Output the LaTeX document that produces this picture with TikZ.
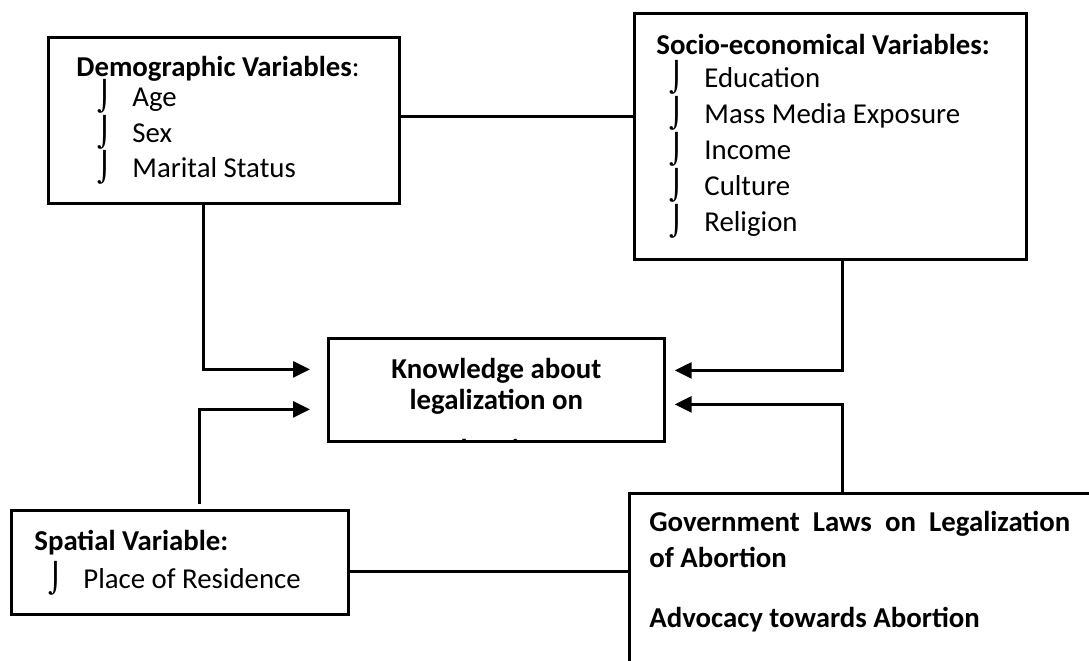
\documentclass[tikz,border=0pt]{standalone}
\usepackage{fontspec}
\setmainfont{Carlito}
\newfontfamily\symfont{DejaVu Sans}
\usetikzlibrary{arrows.meta,positioning,calc}

% list mark and list entry (indent, mark, text)
\newcommand{\bul}{{\symfont\char"2321}}
\newcommand{\itm}[2][0.26cm]{\hspace*{#1}\makebox[0.7cm][l]{\bul}#2}

\tikzset{
  varbox/.style={rectangle, draw, line width=1.6pt, inner sep=0pt, anchor=north west,
    align=flush left, font=\fontsize{16.4}{20.4}\selectfont},
  plainbox/.style={rectangle, draw, line width=1.6pt, inner sep=0pt, anchor=north west},
  boldtext/.style={inner sep=0pt, font=\bfseries\fontsize{16.4}{20.4}\selectfont},
  link/.style={line width=1.6pt},
  arr/.style={link, -{Triangle[length=0.34cm,width=0.32cm]}},
}

\begin{document}
\begin{tikzpicture}[x=0.02cm, y=-0.02cm]
    \clip (0,0) rectangle (1089,660);

    \node[varbox, minimum width=7.02cm, minimum height=3.32cm, text width=5.9cm] (demo) at (47,36)
        {\textbf{Demographic Variables}:\\[-0.12cm]
         \itm[0.42cm]{Age}\\ \itm[0.42cm]{Sex}\\ \itm[0.42cm]{Marital Status}};
    \node[varbox, minimum width=7.84cm, minimum height=4.92cm, text width=6.96cm] (socio) at (633,12)
        {\textbf{Socio-economical Variables:}\\[-0.06cm]
         \itm{Education}\\ \itm{Mass Media Exposure}\\ \itm{Income}\\ \itm{Culture}\\ \itm{Religion}};
    \node[varbox, minimum width=6.74cm, minimum height=2.08cm, text width=5.82cm] (spatial) at (10,509)
        {\textbf{Spatial Variable:}\\[0.04cm] \itm[0.28cm]{Place of Residence}};
    \node[plainbox, minimum width=6.72cm, minimum height=2.06cm] (know) at (327,337) {};
    \node[plainbox, minimum width=9.84cm, minimum height=4.3cm] (gov) at (628,492) {};

    % texts of the two plain boxes
    \begin{scope}
        \clip ([yshift=-0.8pt]know.north west) rectangle ([yshift=0.8pt]know.south east);
        \node[boldtext, align=center, anchor=north, font=\bfseries\fontsize{16.4}{17.6}\selectfont]
            (knowtext) at ([yshift=-0.42cm]know.north)
            {Knowledge about\\legalization on\\[0.39cm]Abortion};
    \end{scope}
    \node[boldtext, align=flush left, anchor=north west] (govtext) at ([xshift=0.42cm,yshift=-0.38cm]gov.north west)
        {\makebox[8.42cm][s]{Government Laws on Legalization}\\
         of Abortion\\[0.48cm]
         Advocacy towards Abortion};

    % connectors
    \coordinate (sdrop) at ([xshift=0.24cm]socio.south);
    \draw[link] ([yshift=0.08cm]demo.east) -- ([yshift=0.08cm]demo.east -| socio.west);
    \draw[link] ([yshift=-0.18cm]spatial.east) -- ([yshift=-0.18cm]spatial.east -| gov.west);
    \draw[arr, shorten >=0.34cm] ([xshift=-0.41cm]demo.south) |- ([yshift=0.41cm]know.west);
    \draw[arr, shorten >=0.34cm, shorten <=0.1cm] ([xshift=0.39cm]spatial.north) |- ([yshift=-0.39cm]know.west);
    \draw[arr, shorten >=0.18cm] (sdrop) |- ([yshift=0.39cm]know.east);
    \draw[arr, shorten >=0.18cm] (gov.north -| sdrop) |- ([yshift=-0.29cm]know.east);
\end{tikzpicture}
\end{document}
